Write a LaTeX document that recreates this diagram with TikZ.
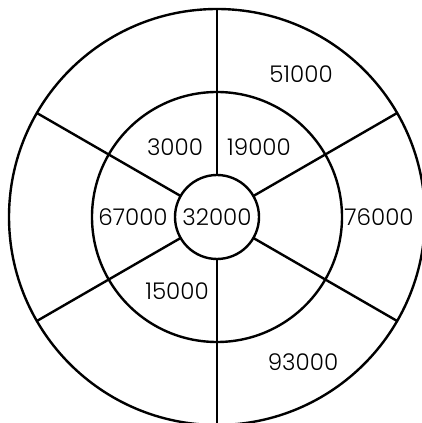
\documentclass[tikz,border=0pt]{standalone}
\usepackage{fontspec}
\setmainfont{Poppins}[UprightFont=* Light]
\begin{document}
\begin{tikzpicture}[x=1pt,y=1pt,
  ring/.style={circle,draw,line width=2.4pt,inner sep=0pt,outer sep=0pt},
  spoke/.style={line width=2.4pt},
  lab/.style={font=\fontsize{23}{25}\selectfont,inner sep=0pt}]
\useasboundingbox (0,0) rectangle (422,423);
\coordinate (c) at (217,206);
\node[ring,minimum size=416pt] (outer) at (c) {};
\node[ring,minimum size=250pt] (middle) at (c) {};
\node[ring,minimum size=84pt] (inner) at (c) {};
\foreach \a in {90,30,-30,-90,150,210}
  \draw[spoke] (inner.\a) -- (outer.\a);
\node[lab] (n51) at (301,349) {51000};
\node[lab] (n3) at (175,276) {3000};
\node[lab] (n19) at (259,276) {19000};
\node[lab] (n67) at (133,206) {67000};
\node[lab] (n32) at (217,206) {32000};
\node[lab] (n76) at (379,206) {76000};
\node[lab] (n15) at (177,132) {15000};
\node[lab] (n93) at (303,61) {93000};
\end{tikzpicture}
\end{document}
